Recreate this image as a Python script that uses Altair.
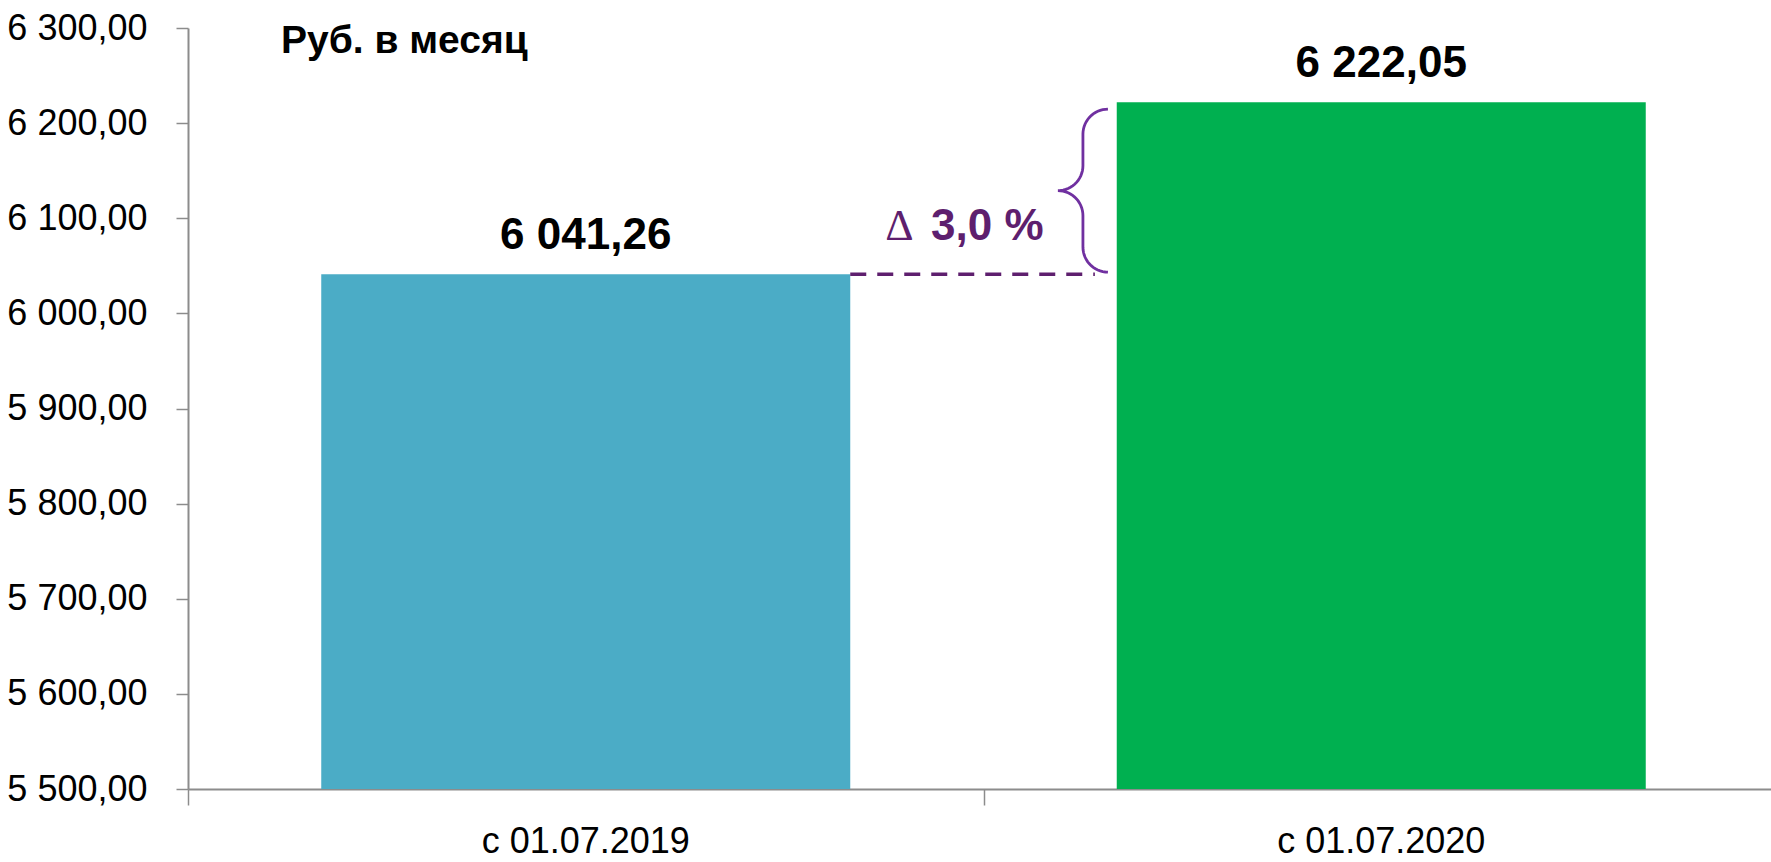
import altair as alt
import pandas as pd
import numpy as np

# ---- data ----
categories = ["с 01.07.2019", "с 01.07.2020"]
values = [6041.26, 6222.05]
bar_colors = ["#4BACC6", "#00B050"]
y_ticks = [5500, 5600, 5700, 5800, 5900, 6000, 6100, 6200, 6300]
unit_label = "Руб. в месяц"
delta_symbol = "∆"

# ---- layout constants ----
FONT = "Liberation Sans, Arial, sans-serif"
positions = [0.5, 1.5]
HALF = 0.3325
W, H = 1583, 761
Y_MIN, Y_MAX = y_ticks[0], y_ticks[-1]
PURPLE_DARK = "#5E1F6E"
PURPLE = "#7030A0"


def ru_fmt(v):
    return f"{v:,.2f}".replace(",", " ").replace(".", ",")


df = pd.DataFrame({
    "cat": categories,
    "value": values,
    "pos": positions,
    "label": [ru_fmt(v) for v in values],
})

pct = (values[1] / values[0] - 1) * 100
delta_df = pd.DataFrame({
    "v1": [values[0]],
    "xa": [positions[0] + HALF],
    "xb": [1.14],
    "sym": [delta_symbol],
    "txt": [f"{pct:.1f}".replace(".", ",") + " %"],
})

# brace between the two values (data units)
ppx = (positions[1] - positions[0]) / 795.5
upy = (Y_MAX - Y_MIN) / H
xv = 1.125
rx = 25 * ppx
ry = 25 * upy
top = values[1] - 7 * upy
bot = values[0] + 2 * upy
mid = (top + bot) / 2
pts = []


def arc(cx, cy, a0, a1, n=16):
    th = np.radians(np.linspace(a0, a1, n))
    return list(zip(cx + rx * np.cos(th), cy + ry * np.sin(th)))


pts += arc(xv + rx, top - ry, 90, 180)
pts += arc(xv - rx, mid + ry, 0, -90)
pts += arc(xv - rx, mid - ry, 90, 0)
pts += arc(xv + rx, bot + ry, 180, 270)
brace_df = pd.DataFrame({
    "bx": [p[0] for p in pts],
    "by": [p[1] for p in pts],
    "o": list(range(len(pts))),
})

title_df = pd.DataFrame({"t": [unit_label]})

x_scale = alt.Scale(domain=[0, W / 795.5], nice=False, zero=False)
y_scale = alt.Scale(domain=[Y_MIN, Y_MAX], nice=False, zero=False)

base = alt.Chart(df)

bars = base.transform_calculate(
    x0=f"datum.pos - {HALF}", x1=f"datum.pos + {HALF}"
).mark_bar().encode(
    x=alt.X("x0:Q", scale=x_scale, title=None,
            axis=alt.Axis(values=[0, 1], labels=False, tickSize=16, grid=False,
                          domainColor="#8c8c8c", tickColor="#8c8c8c",
                          domainWidth=2, tickWidth=1.5)),
    x2="x1:Q",
    y=alt.Y("value:Q", scale=y_scale, title=None,
            axis=alt.Axis(values=y_ticks, grid=False, tickSize=12, tickWidth=1.5,
                          tickColor="#8c8c8c", domainColor="#8c8c8c", domainWidth=2,
                          labelFont=FONT, labelFontSize=36, labelColor="black",
                          labelPadding=29,
                          labelExpr="replace(replace(format(datum.value, ',.2f'), ',', ' '), '.', ',')")),
    y2=alt.datum(Y_MIN),
    color=alt.Color("cat:N", scale=alt.Scale(domain=categories, range=bar_colors), legend=None),
)

value_labels = base.mark_text(
    font=FONT, fontSize=44, fontWeight="bold", baseline="alphabetic", dy=-25, color="black"
).encode(
    x=alt.X("pos:Q", title=None),
    y=alt.Y("value:Q", title=None),
    text="label:N",
)

cat_labels = base.mark_text(
    font=FONT, fontSize=36, baseline="alphabetic", color="black"
).encode(
    x=alt.X("pos:Q", title=None),
    y=alt.value(825),
    text="cat:N",
)

dash = alt.Chart(delta_df).mark_rule(
    strokeDash=[16, 11], strokeWidth=3.5, color=PURPLE_DARK
).encode(
    x=alt.X("xa:Q", title=None),
    x2="xb:Q",
    y=alt.Y("v1:Q", title=None),
)

delta_sym = alt.Chart(delta_df).mark_text(
    font="Liberation Serif, DejaVu Serif, serif", fontSize=44, fontWeight="normal",
    align="left", baseline="alphabetic", dy=-34, color=PURPLE_DARK
).encode(
    x=alt.value(698),
    y=alt.Y("v1:Q", title=None),
    text="sym:N",
)

delta_text = alt.Chart(delta_df).mark_text(
    font=FONT, fontSize=44, fontWeight="bold", align="left", baseline="alphabetic",
    dy=-34, color=PURPLE_DARK
).encode(
    x=alt.value(743),
    y=alt.Y("v1:Q", title=None),
    text="txt:N",
)

brace = alt.Chart(brace_df).mark_line(color=PURPLE, strokeWidth=2.8).encode(
    x=alt.X("bx:Q", title=None),
    y=alt.Y("by:Q", title=None),
    order="o:Q",
)

title = alt.Chart(title_df).mark_text(
    font=FONT, fontSize=39, fontWeight="bold", align="left", baseline="alphabetic",
    color="black"
).encode(
    x=alt.value(93),
    y=alt.value(25),
    text="t:N",
)

chart = alt.layer(bars, value_labels, cat_labels, dash, delta_sym, delta_text, brace, title).properties(
    width=W, height=H,
    padding={"left": 188, "top": 28, "right": 0, "bottom": 73},
    autosize=alt.AutoSizeParams(type="none"),
).configure_view(stroke=None)

chart.save("out.html", embed_options={"renderer": "svg", "actions": False})
